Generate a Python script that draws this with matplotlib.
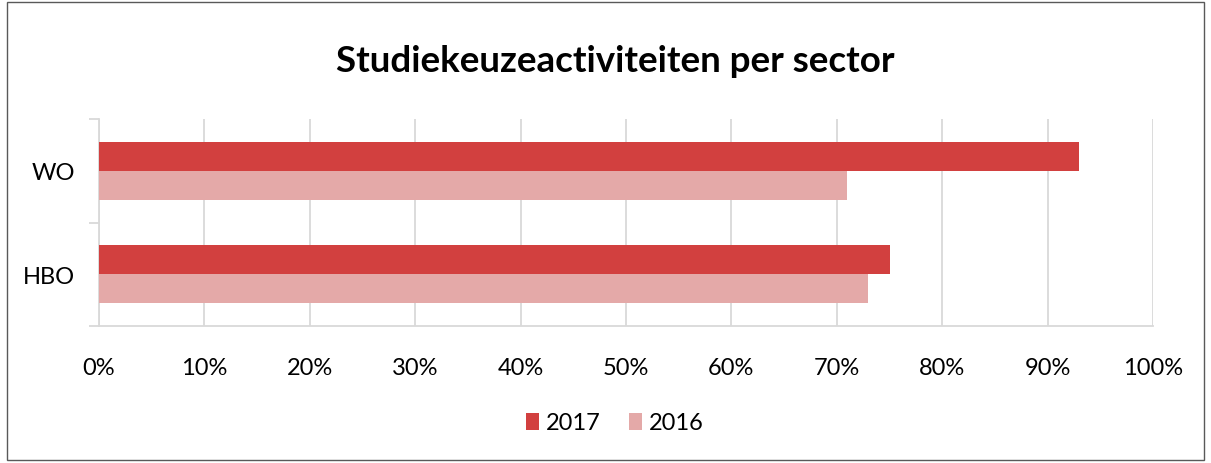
import matplotlib.pyplot as plt
from matplotlib.patches import Rectangle
from matplotlib.ticker import PercentFormatter

sectors = ['HBO', 'WO']
years = ['2017', '2016']
values_2017 = [75, 93]
values_2016 = [73, 71]
colors = {'2017': '#D2403F', '2016': '#E4A9A8'}

plt.rcParams['font.family'] = ['Lato', 'DejaVu Sans']

fig = plt.figure(figsize=(12.11, 4.64), dpi=100)
ax = fig.add_axes([99 / 1211, 1 - 327 / 464, (1153 - 99) / 1211, (327 - 120) / 464])

h = 0.28
pos = list(range(len(sectors)))
ax.barh([p + h / 2 for p in pos], values_2017, height=h, color=colors['2017'], label='2017', zorder=3)
ax.barh([p - h / 2 for p in pos], values_2016, height=h, color=colors['2016'], label='2016', zorder=3)

ax.set_xlim(0, 100)
ax.set_ylim(-0.5, 1.5)
ax.set_xticks(range(0, 101, 10))
ax.xaxis.set_major_formatter(PercentFormatter(decimals=0))
ax.set_yticks(pos)
ax.set_yticklabels(sectors)
ax.set_yticks([-0.5, 0.5, 1.5], minor=True)

ax.grid(axis='x', color='#D9D9D9', linewidth=1.3, zorder=0)
for s in ['top', 'right']:
    ax.spines[s].set_visible(False)
ax.spines['left'].set_color('#D9D9D9')
ax.spines['bottom'].set_color('#D9D9D9')
ax.spines['left'].set_linewidth(1.3)
ax.spines['bottom'].set_linewidth(1.3)
ax.tick_params(axis='x', length=0, pad=22, labelsize=17, colors='#000000')
ax.tick_params(axis='y', which='major', length=0, pad=17, labelsize=17)
ax.tick_params(axis='y', which='minor', length=7, color='#D9D9D9', width=1.3)

fig.text(0.508, 1 - 62 / 464, 'Studiekeuzeactiviteiten per sector', ha='center', va='center',
         fontsize=26.5, fontweight='bold')

handles, labels = ax.get_legend_handles_labels()
fig.legend(handles, labels, loc='center', bbox_to_anchor=(0.508, 1 - 424 / 464), ncol=2,
           frameon=False, fontsize=17, handlelength=0.55, handleheight=0.75, handletextpad=0.3,
           columnspacing=1.2)

fig.patches.append(Rectangle((7 / 1211, 3 / 464), 1197 / 1211, 458 / 464, transform=fig.transFigure,
                             fill=False, edgecolor='#595959', linewidth=1))

fig.savefig('out.png', dpi=100)
